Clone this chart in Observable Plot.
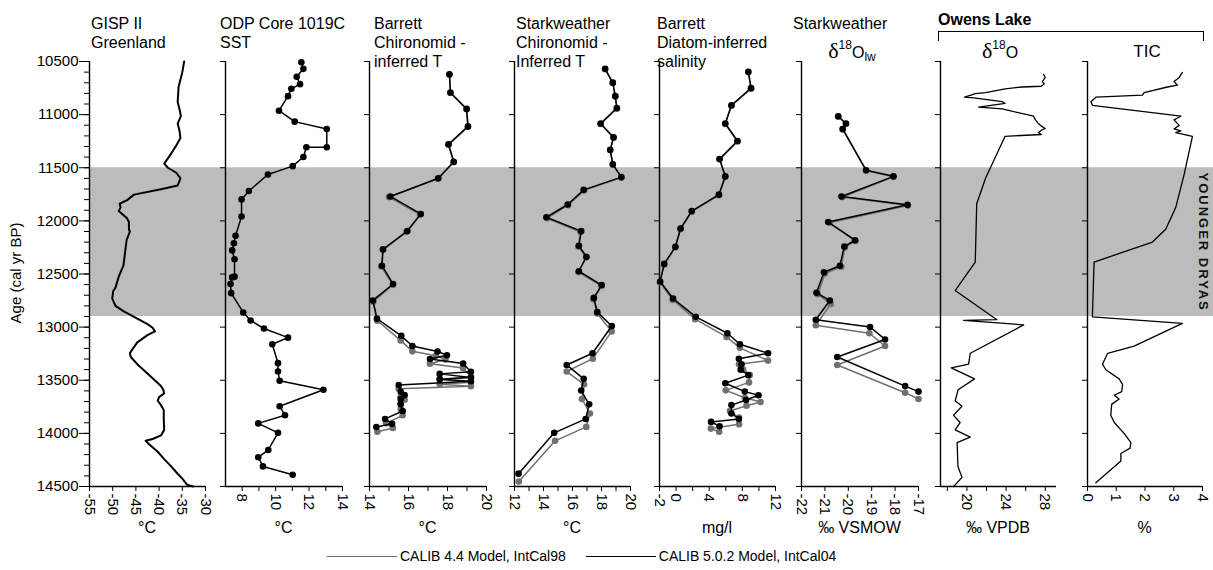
<!DOCTYPE html>
<html><head><meta charset="utf-8">
<script src="https://cdn.jsdelivr.net/npm/d3@7"></script>
<script src="https://cdn.jsdelivr.net/npm/@observablehq/plot@0.6"></script>
<style>
body{margin:0;background:#fff;}
#chart{position:relative;width:1213px;height:570px;font-family:"Liberation Sans",Arial,Helvetica,sans-serif;color:#000;overflow:hidden;}
.abs{position:absolute;white-space:nowrap;}
.title{font-size:16px;line-height:19px;}
.unit{font-size:16px;line-height:18px;transform:translateX(-50%);}
.greek{font-family:"Liberation Serif","DejaVu Serif",serif;font-size:22px;}
.iso{font-size:16px;line-height:22px;transform:translateX(-50%);}
.iso sup{font-size:12px;vertical-align:9px;line-height:0;}
.iso sub{font-size:12px;vertical-align:-3px;line-height:0;}
.leg{font-size:14px;line-height:16px;display:flex;align-items:center;}
.legline{display:inline-block;width:70px;height:0;border-top:1.6px solid;margin-right:3px;}
</style></head><body><div id="chart"></div>
<script>
// ---------------- data ----------------
const ageTicks = [10500,11000,11500,12000,12500,13000,13500,14000,14500];
const ageMinorTicks = d3.range(10500, 14501, 100);
const youngerDryas = [{start: 11500, end: 12900, label: "YOUNGER DRYAS"}];

const gispAge = [10500,10600,10740,10880,10950,11015,11084,11152,11221,11290,11393,11461,11500,11547,11599,11667,11702,11753,11805,11839,11873,11908,11976,12011,12079,12100,12182,12251,12319,12422,12525,12628,12663,12731,12800,12852,12903,12937,12972,13006,13040,13075,13143,13212,13246,13281,13349,13452,13555,13590,13624,13658,13693,13727,13779,13864,13967,14019,14053,14070,14105,14173,14242,14311,14380,14431,14482,14500];
const gispTemp = [-34.6,-35.0,-35.8,-36.0,-35.6,-35.3,-36.0,-35.6,-35.4,-36.3,-37.8,-38.9,-38.1,-36.3,-35.4,-36.0,-39.6,-45.4,-46.9,-48.5,-48.3,-48.7,-46.9,-46.5,-46.5,-46.3,-47.0,-47.2,-47.4,-47.7,-48.7,-49.4,-49.9,-50.1,-49.4,-47.6,-45.4,-44.0,-42.5,-41.4,-40.9,-42.5,-44.7,-45.8,-46.3,-46.1,-44.7,-42.1,-39.6,-39.1,-38.9,-40.0,-40.3,-39.7,-39.0,-39.0,-38.9,-39.6,-41.4,-42.9,-42.1,-40.3,-38.9,-37.4,-36.0,-34.9,-34.0,-32.7];
const gispTicks = [-55,-50,-45,-40,-35,-30];

const odpAge = [10507,10569,10644,10713,10757,10826,10963,11066,11135,11307,11307,11399,11485,11564,11719,11798,11959,12141,12210,12278,12361,12525,12532,12594,12680,12862,12937,13013,13099,13161,13339,13418,13504,13590,13744,13830,13906,13995,14156,14225,14311,14390];
const odpSST = [11.54,11.66,11.26,11.46,10.94,10.74,10.2,11.14,13.06,13.06,11.84,11.66,11.02,9.54,8.4,7.96,7.96,7.6,7.5,7.4,7.54,7.54,7.4,7.3,7.34,8.06,8.5,9.3,10.74,9.8,10.14,10.14,10.24,12.86,10.24,10.56,8.96,10.14,9.56,8.96,9.24,11.02];
const odpTicks = [8,10,12,14];
const odpMinor = [9,11,13];

const bcAge04 = [10620,10792,10946,11111,11279,11444,11599,11770,11935,12096,12268,12422,12594,12749,12920,13082,13178,13229,13264,13300,13342,13420,13440,13475,13490,13510,13545,13607,13640,13676,13727,13789,13864,13909,13940];
const bcT04 = [18.1,18.15,18.98,19.05,18.05,18.32,17.53,15.07,16.63,15.94,14.69,14.64,15.21,14.17,14.38,15.63,16.2,17.49,17.97,17.1,18.8,19.2,17.6,19.2,17.6,19.2,15.5,15.6,15.8,15.6,15.6,15.7,14.8,15.16,14.35];
const bcAge98 = [10624,10796,10950,11115,11283,11448,11604,11776,11941,12102,12274,12430,12602,12760,12940,13125,13228,13270,13305,13345,13385,13470,13490,13520,13538,13556,13580,13650,13683,13718,13770,13830,13905,13950,13985];
const bcT98 = [18.1,18.15,18.98,19.05,18.05,18.32,17.5,15.0,16.6,15.9,14.7,14.6,15.2,14.2,14.4,15.6,16.2,17.4,17.9,17.1,18.8,19.2,17.6,19.2,17.6,19.2,15.5,15.6,15.8,15.6,15.6,15.7,14.85,15.2,14.4];
const bcTicks = [14,16,18,20];
const bcMinor = [15,17,19];

const scAge04 = [10569,10699,10826,10939,11084,11214,11331,11468,11588,11708,11846,11966,12096,12234,12337,12474,12604,12725,12859,12989,13246,13356,13487,13597,13727,13864,13995,14379];
const scT04 = [18.25,18.78,18.95,19.06,17.94,18.83,18.6,18.78,19.37,16.77,15.67,14.2,16.6,16.44,16.96,16.44,18.01,17.47,17.71,18.71,17.38,15.6,16.77,16.6,17.15,16.91,14.74,12.28];
const scAge98 = [10573,10703,10830,10943,11088,11218,11335,11472,11593,11713,11852,11975,12105,12242,12345,12482,12612,12737,12872,13040,13297,13418,13538,13676,13813,13939,14070,14454];
const scT98 = [18.25,18.78,18.95,19.06,17.94,18.83,18.6,18.78,19.37,16.8,15.7,14.25,16.55,16.4,16.95,16.4,18.0,17.45,17.7,18.7,17.4,15.6,16.8,16.65,17.2,16.95,14.8,12.3];
const scTicks = [12,14,16,18,20];
const scMinor = [13,15,17,19];

const dsAge04 = [10596,10751,10912,11084,11248,11417,11581,11753,11908,12072,12244,12405,12570,12731,12903,13058,13161,13246,13298,13349,13400,13452,13528,13607,13641,13686,13734,13813,13864,13892,13933];
const dsSal04 = [8.72,9.05,6.68,5.94,7.41,5.25,5.94,5.16,1.89,0.54,-0.08,-1.43,-1.92,-0.36,2.38,6.19,7.7,11.1,7.58,7.9,7.8,8.72,5.94,8.3,9.95,8.45,6.68,6.68,7.58,4.22,5.25];
const dsAge98 = [10600,10755,10916,11088,11252,11421,11586,11758,11913,12078,12250,12412,12578,12745,12925,13092,13195,13315,13350,13400,13450,13520,13595,13665,13705,13740,13790,13850,13915,13955,13985];
const dsSal98 = [8.72,9.05,6.68,5.94,7.41,5.25,5.94,5.2,1.9,0.55,-0.1,-1.45,-1.95,-0.4,2.3,6.1,7.7,11.1,7.6,8.1,8.9,8.8,6.0,8.3,10.2,8.5,6.5,7.6,7.6,4.2,5.2];
const dsTicks = [-2,0,4,8,12];
const dsMinor = [2,6,10];

const sdAge04 = [11015,11084,11135,11523,11581,11770,11849,12011,12182,12241,12422,12484,12677,12749,12931,12999,13116,13281,13555,13607];
const sdVal04 = [-20.43,-20.1,-20.24,-19.24,-18.07,-20.29,-17.47,-20.86,-19.71,-20.17,-20.36,-21.04,-21.36,-20.79,-21.39,-19.07,-18.43,-20.47,-17.57,-17.0];
const sdAge98 = [11019,11088,11139,11527,11586,11776,11856,12018,12190,12250,12432,12496,12690,12783,12982,13058,13178,13356,13617,13676];
const sdVal98 = [-20.43,-20.1,-20.24,-19.24,-18.07,-20.25,-17.45,-20.8,-19.7,-20.15,-20.3,-21.0,-21.3,-20.75,-21.39,-19.1,-18.43,-20.47,-17.57,-17.0];
const sdTicks = [-22,-21,-20,-19,-18,-17];

const owAge = [10620,10650,10689,10710,10733,10740,10757,10792,10802,10815,10836,10843,10878,10895,10929,10946,11015,11049,11084,11111,11130,11145,11169,11187,11204,11599,11839,12388,12656,12930,12937,12979,13246,13349,13384,13487,13590,13693,13744,13830,13898,13967,14036,14087,14311,14414,14500];
const owD18O = [27.83,28.0,27.7,27.9,27.6,25.6,23.9,21.9,20.85,20.5,19.76,20.7,23.6,23.9,21.2,23.6,26.8,27.0,27.3,27.65,28.0,27.65,27.3,27.6,23.9,21.9,21.0,20.85,18.8,23.06,19.66,25.8,20.34,20.17,18.4,20.78,19.1,18.8,19.5,18.64,19.3,18.8,20.34,19.0,19.08,19.5,18.64];
const owTicks = [20,24,28];
const owMinor = [18,22,26];

const ticAge = [10603,10650,10689,10723,10740,10792,10816,10836,10878,10912,11015,11049,11101,11135,11152,11169,11204,11564,11873,12079,12199,12388,12903,12965,13178,13246,13349,13401,13487,13538,13607,13641,13676,13727,13830,13898,14002,14087,14139,14190,14259,14465];
const ticPct = [3.3,3.19,3.01,3.13,2.78,1.97,1.91,0.29,0.12,0.17,3.25,3.01,3.19,3.01,3.25,3.07,3.65,3.36,3.07,2.72,2.26,0.23,0.17,3.3,1.62,0.7,0.52,0.64,1.1,1.22,1.19,0.93,1.1,0.84,0.81,0.93,1.28,1.51,1.48,1.16,1.16,0.29];
const ticTicks = [0,1,2,3,4];

const legendLabels = ["CALIB 4.4 Model, IntCal98", "CALIB 5.0.2 Model, IntCal04"];

// ---------------- layout ----------------
const W = 1213, H = 570, TOP = 61, BOTTOM = 84;
const yDomain = [10500, 14500];
const GRAY = "#707070", BLACK = "#000";
const FONT = '"Liberation Sans", Arial, Helvetica, sans-serif';
const chart = document.getElementById("chart");

const s04 = (age, val, dots) => ({age, val, color: BLACK, dots, width: 1.5});
const s98 = (age, val) => ({age, val, color: GRAY, dots: true, width: 1.5});

const panels = [
  {left: 89, right: 205, domain: [-55, -30], ticks: gispTicks, minor: [], unit: "°C", series: [{age: gispAge, val: gispTemp, color: BLACK, dots: false, width: 2}]},
  {left: 225, right: 342, domain: [7, 14], ticks: odpTicks, minor: odpMinor, unit: "°C", series: [s04(odpAge, odpSST, true)]},
  {left: 369, right: 486, domain: [14, 20], ticks: bcTicks, minor: bcMinor, unit: "°C", series: [s98(bcAge98, bcT98), s04(bcAge04, bcT04, true)]},
  {left: 514, right: 630, domain: [12, 20], ticks: scTicks, minor: scMinor, unit: "°C", series: [s98(scAge98, scT98), s04(scAge04, scT04, true)]},
  {left: 659, right: 775, domain: [-2, 12], ticks: dsTicks, minor: dsMinor, unit: "mg/l", series: [s98(dsAge98, dsSal98), s04(dsAge04, dsSal04, true)]},
  {left: 801, right: 918, domain: [-22, -17], ticks: sdTicks, minor: [], unit: "‰ VSMOW", series: [s98(sdAge98, sdVal98), s04(sdAge04, sdVal04, true)]},
  {left: 940, right: 1056, domain: [17.3, 29.15], ticks: owTicks, minor: owMinor, unit: "‰ VPDB", series: [{age: owAge, val: owD18O, color: BLACK, dots: false, width: 1.3}]},
  {left: 1087, right: 1202, domain: [0, 4], ticks: ticTicks, minor: [], unit: "%", series: [{age: ticAge, val: ticPct, color: BLACK, dots: false, width: 1.3}]}
];

function place(el, left) {
  el.style.position = "absolute";
  el.style.left = left + "px";
  el.style.top = "0px";
  chart.appendChild(el);
}

// background band (Younger Dryas)
const bandSvg = Plot.plot({
  width: W, height: H,
  marginLeft: panels[0].left, marginRight: 0, marginTop: TOP, marginBottom: BOTTOM,
  y: {domain: yDomain, reverse: true, axis: null},
  style: {background: "transparent", fontFamily: FONT, overflow: "visible"},
  marks: [
    Plot.rect(youngerDryas, {y1: "start", y2: "end", fill: "#bcbcbc"}),
    Plot.text(youngerDryas, {y: d => (d.start + d.end) / 2, text: "label", frameAnchor: "right", textAnchor: "middle", dx: -10, rotate: 90, fontWeight: "bold", fontSize: 13, fill: "#111"})
  ]
});
bandSvg.querySelectorAll("text").forEach(t => t.setAttribute("letter-spacing", "2"));
place(bandSvg, 0);

panels.forEach((p, i) => {
  const ml = i === 0 ? p.left : 16, mr = 10;
  const marks = [
    Plot.ruleX([p.domain[0]], {strokeWidth: 1.4}),
    Plot.ruleY([yDomain[1]], {strokeWidth: 1.4})
  ];
  if (i === 0) {
    marks.push(Plot.axisY(ageMinorTicks, {tickSize: 5, fill: "none", label: null}));
    marks.push(Plot.axisY(ageTicks, {tickSize: 10, tickPadding: 1, tickFormat: d => String(d), label: null}));
  } else {
    marks.push(Plot.axisY(ageTicks, {tickSize: 5, fill: "none", label: null}));
  }
  if (p.minor.length) marks.push(Plot.axisX(p.minor, {tickSize: 5, fill: "none", label: null}));
  marks.push(Plot.axisX(p.ticks, {tickSize: 5, tickPadding: 2, tickRotate: 90, tickFormat: d => String(d), label: null}));
  for (const s of p.series) {
    const rows = s.age.map((a, j) => ({age: a, v: s.val[j]}));
    marks.push(Plot.line(rows, {x: "v", y: "age", stroke: s.color, strokeWidth: s.width}));
    if (s.dots) marks.push(Plot.dot(rows, {x: "v", y: "age", r: 3.3, fill: s.color, stroke: "none"}));
  }
  const svg = Plot.plot({
    width: (p.right - p.left) + ml + mr, height: H,
    marginLeft: ml, marginRight: mr, marginTop: TOP, marginBottom: BOTTOM,
    x: {domain: p.domain},
    y: {domain: yDomain, reverse: true},
    style: {background: "transparent", fontFamily: FONT, fontSize: "15px", color: "#000", overflow: "visible"},
    marks
  });
  place(svg, p.left - ml);

  const u = document.createElement("div");
  u.className = "abs unit";
  u.style.left = ((p.left + p.right) / 2) + "px";
  u.style.top = "519px";
  u.textContent = p.unit;
  chart.appendChild(u);
});

// ---------------- text ----------------
function addTitle(lines, left, top, cls = "title") {
  const d = document.createElement("div");
  d.className = "abs " + cls;
  d.style.left = left + "px";
  d.style.top = top + "px";
  d.innerHTML = lines.join("<br>");
  chart.appendChild(d);
  return d;
}
addTitle(["GISP II", "Greenland"], 91, 14);
addTitle(["ODP Core 1019C", "SST"], 220, 14);
addTitle(["Barrett", "Chironomid -", "inferred T"], 374, 14);
addTitle(["Starkweather", "Chironomid -", "Inferred T"], 516, 14);
addTitle(["Barrett", "Diatom-inferred", "salinity"], 657, 14);
addTitle(["Starkweather"], 793, 14);
const ow = addTitle(["Owens Lake"], 938, 10);
ow.style.fontWeight = "bold";

function iso(html, cx, top) {
  const d = document.createElement("div");
  d.className = "abs iso";
  d.style.left = cx + "px";
  d.style.top = top + "px";
  d.innerHTML = html;
  chart.appendChild(d);
}
iso('<span class="greek">δ</span><sup>18</sup>O<sub>lw</sub>', 852, 40);
iso('<span class="greek">δ</span><sup>18</sup>O', 1000, 40);
const tic = addTitle(["TIC"], 1147, 42);
tic.style.fontSize = "17px";
tic.style.transform = "translateX(-50%)";

// Owens Lake bracket
const br = document.createElement("div");
br.className = "abs";
Object.assign(br.style, {left: "938px", top: "31px", width: "264px", height: "9px", borderTop: "1.5px solid #000", borderLeft: "1.5px solid #000", borderRight: "1.5px solid #000"});
chart.appendChild(br);

// y-axis title
const yl = document.createElement("div");
yl.className = "abs";
Object.assign(yl.style, {left: "15px", top: "273px", fontSize: "15px", transform: "translate(-50%,-50%) rotate(-90deg)"});
yl.textContent = "Age (cal yr BP)";
chart.appendChild(yl);

// legend
const leg = document.createElement("div");
leg.className = "abs";
Object.assign(leg.style, {left: "327px", top: "548px", display: "flex", gap: "20px"});
[[GRAY, legendLabels[0]], [BLACK, legendLabels[1]]].forEach(([c, t]) => {
  const item = document.createElement("div");
  item.className = "leg";
  item.innerHTML = `<span class="legline" style="border-color:${c}"></span><span>${t}</span>`;
  leg.appendChild(item);
});
chart.appendChild(leg);
</script></body></html>
